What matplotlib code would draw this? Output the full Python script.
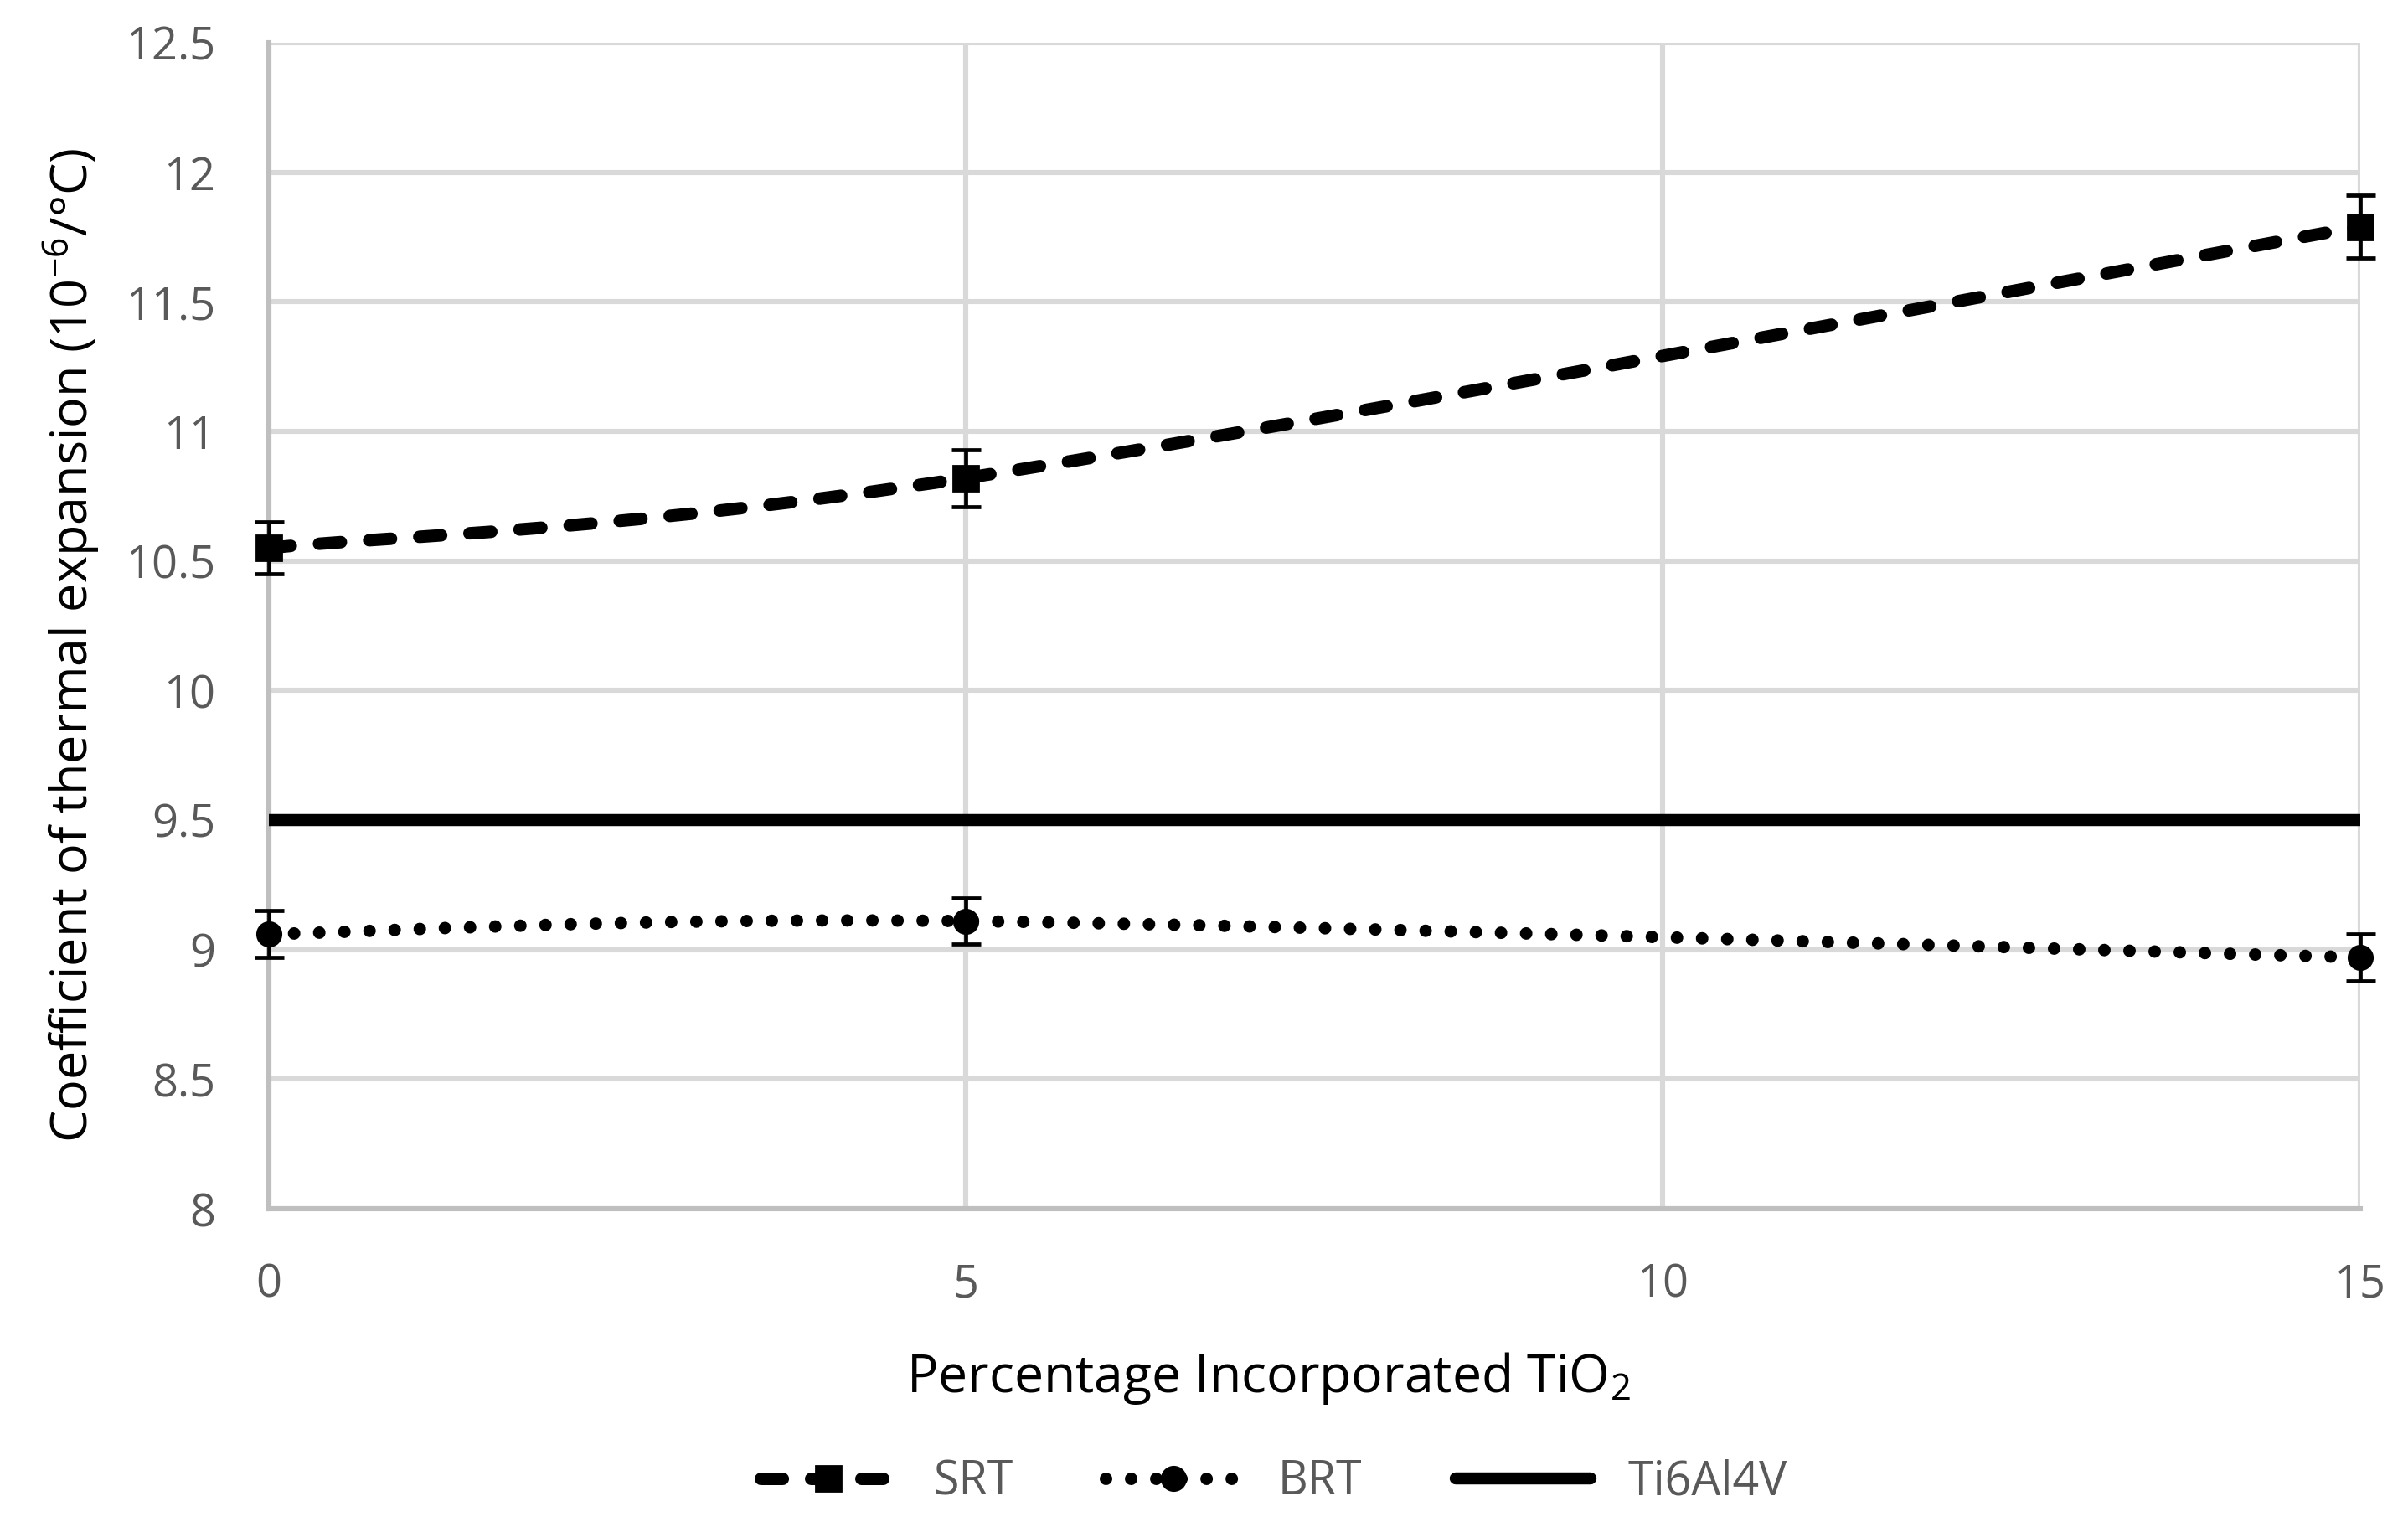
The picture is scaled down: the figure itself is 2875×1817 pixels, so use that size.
"""Coefficient of thermal expansion vs incorporated TiO2."""

import matplotlib
matplotlib.use('Agg')
import matplotlib.pyplot as plt
from matplotlib.lines import Line2D
from matplotlib.path import Path
from matplotlib.patches import PathPatch


TIO2_PERCENT = [0, 5, 15]
SRT_CTE = [10.55, 10.82, 11.79]
SRT_ERR = [0.10, 0.11, 0.12]
BRT_CTE = [9.06, 9.11, 8.97]
BRT_ERR = [0.09, 0.09, 0.09]
TI6AL4V_X = [0, 15]
TI6AL4V_CTE = [9.5, 9.5]

X_TICKS = [0, 5, 10, 15]
Y_TICKS = [8, 8.5, 9, 9.5, 10, 10.5, 11, 11.5, 12, 12.5]
Y_TICK_LABELS = ['8', '8.5', '9', '9.5', '10', '10.5', '11', '11.5', '12', '12.5']

SRT_DASH = (0, (9.4, 12.2))
BRT_DOT = (0, (0.01, 10.8))
TICK_GREY = '#595959'
GRID_GREY = '#d9d9d9'
AXIS_GREY = '#bfbfbf'

plt.rcParams['font.family'] = ['Open Sans', 'DejaVu Sans']
plt.rcParams['mathtext.fontset'] = 'custom'
plt.rcParams['mathtext.rm'] = 'Open Sans'
plt.rcParams['mathtext.default'] = 'regular'
plt.rcParams['lines.scale_dashes'] = False


def smooth_path(xs, ys):
    """Excel-like smoothed line through the points (Catmull-Rom as Beziers)."""
    pts = list(zip(xs, ys))
    n = len(pts)
    verts = [pts[0]]
    codes = [Path.MOVETO]
    for i in range(n - 1):
        p0 = pts[max(i - 1, 0)]
        p1 = pts[i]
        p2 = pts[i + 1]
        p3 = pts[min(i + 2, n - 1)]
        c1 = (p1[0] + (p2[0] - p0[0]) / 6, p1[1] + (p2[1] - p0[1]) / 6)
        c2 = (p2[0] - (p3[0] - p1[0]) / 6, p2[1] - (p3[1] - p1[1]) / 6)
        verts += [c1, c2, p2]
        codes += [Path.CURVE4] * 3
    return Path(verts, codes)


fig = plt.figure(figsize=(14.375, 9.085), dpi=200)
ax = fig.add_axes([0.1117, 0.2058, 0.98 - 0.1117, 0.972 - 0.2058])

ax.set_xlim(0, 15)
ax.set_ylim(8, 12.5)
ax.set_xticks(X_TICKS)
ax.set_yticks(Y_TICKS)
ax.set_yticklabels(Y_TICK_LABELS)
ax.tick_params(length=0, labelsize=19.5, labelcolor=TICK_GREY)
ax.tick_params(axis='y', pad=23)
ax.tick_params(axis='x', pad=23)
ax.grid(True, color=GRID_GREY, linewidth=2.2)
ax.set_axisbelow(True)
for side in ('top', 'right'):
    ax.spines[side].set_visible(False)
for side in ('left', 'bottom'):
    ax.spines[side].set_color(AXIS_GREY)
    ax.spines[side].set_linewidth(2.2)

# Ti6Al4V reference line
ax.plot(TI6AL4V_X, TI6AL4V_CTE, color='black', linewidth=5.2,
        solid_capstyle='butt', zorder=3)

# smoothed series lines
srt_patch = PathPatch(smooth_path(TIO2_PERCENT, SRT_CTE), facecolor='none',
                      edgecolor='black', linewidth=5.4, linestyle=SRT_DASH,
                      capstyle='round', zorder=3, clip_on=False)
ax.add_patch(srt_patch)
brt_patch = PathPatch(smooth_path(TIO2_PERCENT, BRT_CTE), facecolor='none',
                      edgecolor='black', linewidth=5.4, linestyle=BRT_DOT,
                      capstyle='round', zorder=3, clip_on=False)
ax.add_patch(brt_patch)

# markers and error bars
for y, err, marker, size in ((SRT_CTE, SRT_ERR, 's', 10.6),
                             (BRT_CTE, BRT_ERR, 'o', 10.2)):
    container = ax.errorbar(TIO2_PERCENT, y, yerr=err, fmt=marker,
                            color='black', markersize=size, ecolor='black',
                            elinewidth=1.7, capsize=6.3, capthick=1.7,
                            zorder=4)
    for artist in container.lines[0:1] + tuple(container.lines[1]) \
            + tuple(container.lines[2]):
        artist.set_clip_on(False)

ax.set_xlabel('Percentage Incorporated TiO$_2$', fontsize=22.5,
              color='black', labelpad=18)
ax.xaxis.label.set_x(0.478)
ax.set_ylabel('Coefficient of thermal expansion (10$^{-6}$/°C)',
              fontsize=22, color='black', labelpad=10)
ax.yaxis.label.set_y(0.483)

handles = [
    Line2D([], [], color='black', linewidth=5.4, linestyle=SRT_DASH,
           dash_capstyle='round', marker='s', markersize=10.6),
    Line2D([], [], color='black', linewidth=5.4, linestyle=BRT_DOT,
           dash_capstyle='round', marker='o', markersize=10.2),
    Line2D([], [], color='black', linewidth=5.2, solid_capstyle='round'),
]
legend = fig.legend(handles, ['SRT', 'BRT', 'Ti6Al4V'], loc='center',
                    bbox_to_anchor=(0.529, 0.026), ncol=3, frameon=False,
                    fontsize=20, numpoints=1, handlelength=2.9,
                    handletextpad=0.8, columnspacing=2.0)
for text in legend.get_texts():
    text.set_color(TICK_GREY)

fig.savefig('out.png', dpi=200, facecolor='white')
